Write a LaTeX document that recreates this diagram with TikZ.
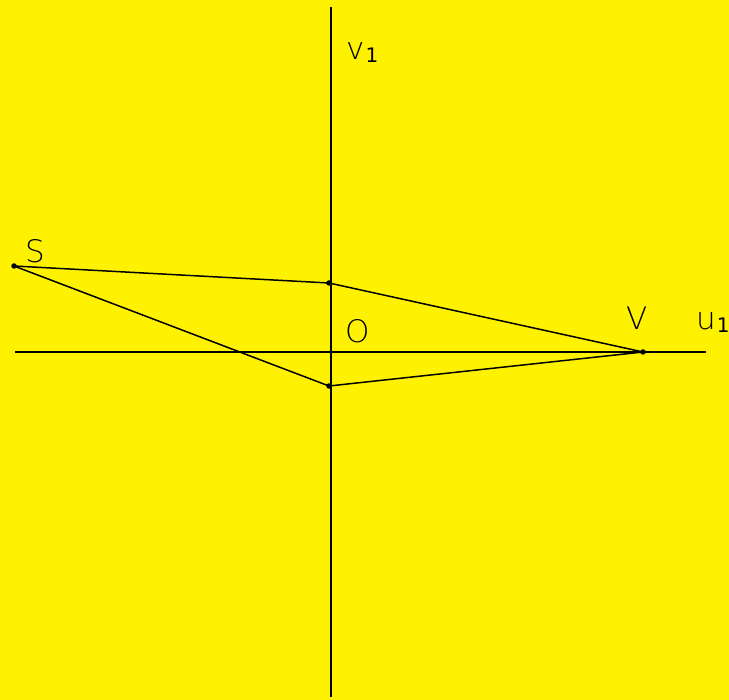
\documentclass[tikz,border=0pt]{standalone}
\usepackage{fontspec}
\setmainfont{DejaVu Sans ExtraLight}
\newfontfamily\subfont{DejaVu Sans}
\definecolor{bgyellow}{RGB}{255,242,0}
\tikzset{
  lbl/.style={inner sep=0pt, anchor=base west, font=\fontsize{31}{31}\selectfont},
  axis/.style={line width=1.5pt},
  edge/.style={line width=1.5pt},
  dot/.style={circle, fill=black, inner sep=0pt, minimum size=5.5pt}
}
\newcommand{\subone}{\kern1pt\raisebox{-3pt}{\subfont\fontsize{20}{20}\selectfont 1}}
\begin{document}
\begin{tikzpicture}[x=1pt, y=-1pt]
  \fill[bgyellow] (0,0) rectangle (729,700);
  \useasboundingbox (0,0) rectangle (729,700);

  % axes
  \coordinate (uL) at (15,352);
  \coordinate (uR) at (706,352);
  \coordinate (vT) at (331,7);
  \coordinate (vB) at (331,697);
  \draw[axis] (uL) -- (uR);
  \draw[axis] (vT) -- (vB);

  % points
  \node[dot] (S) at (14,266) {};
  \node[dot] (P) at (329,283) {};
  \node[dot] (Q) at (329,386) {};
  \node[dot] (V) at (643,352) {};

  \draw[edge] (S.center) -- (P.center) -- (V.center);
  \draw[edge] (S.center) -- (Q.center) -- (V.center);

  % labels
  \node[lbl] (labS) at (25,263) {S};
  \node[lbl] (labO) at (345,343) {O};
  \node[lbl] (labV) at (626,330) {V};
  \node[lbl] (labu) at (696,330) {u\subone};
  \node[lbl] (labv) at (346,60) {v\subone};
\end{tikzpicture}
\end{document}
